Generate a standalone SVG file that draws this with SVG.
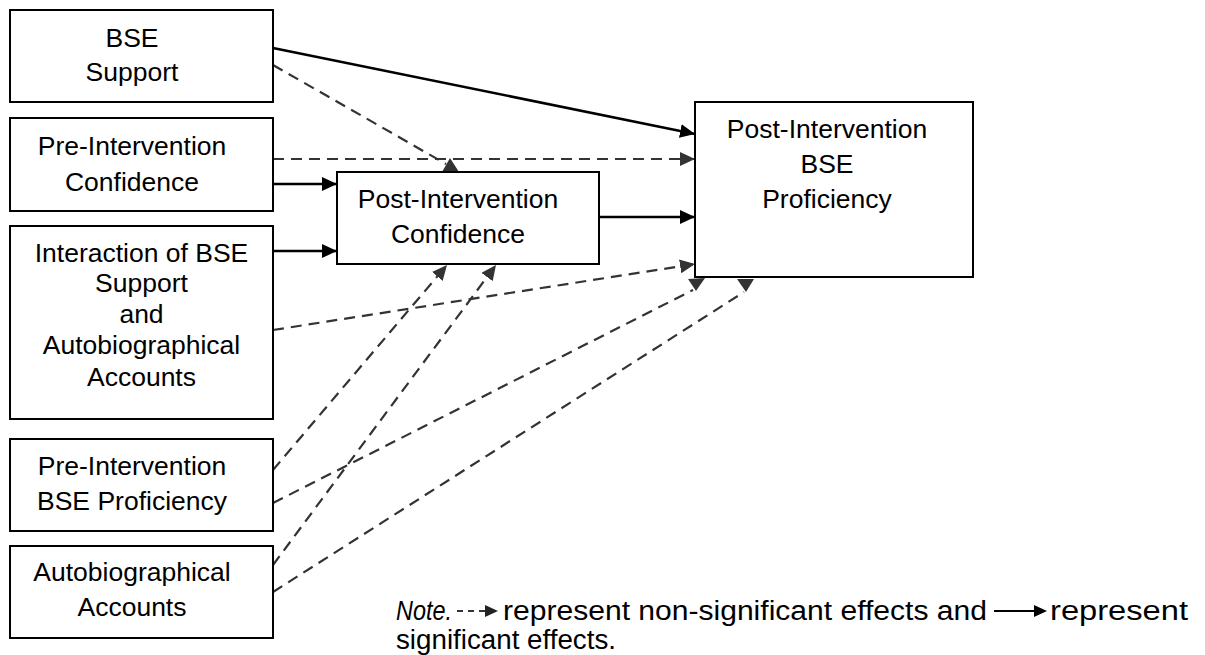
<svg xmlns="http://www.w3.org/2000/svg" width="1205" height="655" viewBox="0 0 1205 655">
<style>
.box{fill:#fff;stroke:#000;stroke-width:2}
.t{font-family:"Liberation Sans",Arial,sans-serif;font-size:26.5px;fill:#000;text-anchor:middle}
.note{font-family:"Liberation Sans",Arial,sans-serif;font-size:27px;fill:#000}
.sol{stroke:#000;stroke-width:2.5;fill:none}
.das{stroke:#333;stroke-width:2.2;fill:none;stroke-dasharray:11 7}
</style>
<defs>
<marker id="hs" markerUnits="userSpaceOnUse" markerWidth="15" markerHeight="14" refX="15" refY="7" orient="auto"><path d="M0,0 L15,7 L0,14 z" fill="#000"/></marker>
<marker id="hd" markerUnits="userSpaceOnUse" markerWidth="15" markerHeight="14" refX="15" refY="7" orient="auto"><path d="M0,0 L15,7 L0,14 z" fill="#333"/></marker>
</defs>
<rect width="1205" height="655" fill="#fff"/>
<g id="connectors">
<line class="sol" x1="273" y1="48" x2="695" y2="134" marker-end="url(#hs)"/>
<line class="sol" x1="273" y1="184" x2="337" y2="184" marker-end="url(#hs)"/>
<line class="sol" x1="273" y1="251" x2="337" y2="251" marker-end="url(#hs)"/>
<line class="sol" x1="599" y1="217" x2="695" y2="217" marker-end="url(#hs)"/>
<line class="das" x1="273" y1="65" x2="446" y2="164"/>
<polygon points="442,172 450,158 459,172" fill="#333"/>
<line class="das" x1="273" y1="159" x2="695" y2="159" marker-end="url(#hd)"/>
<line class="das" x1="273" y1="330" x2="695" y2="264" marker-end="url(#hd)"/>
<line class="das" x1="273" y1="470" x2="447" y2="265" marker-end="url(#hd)"/>
<line class="das" x1="273" y1="565" x2="496" y2="265" marker-end="url(#hd)"/>
<line class="das" x1="273" y1="503" x2="693" y2="290"/>
<polygon points="688,279 705,278 696,291" fill="#333"/>
<line class="das" x1="273" y1="592" x2="744" y2="292"/>
<polygon points="737,279 754,279 746,292" fill="#333"/>
</g>
<g id="n-bse-support">
<rect class="box" x="10" y="10" width="263" height="92"/>
<text class="t" x="132" y="47">BSE</text>
<text class="t" x="132" y="81">Support</text>
</g>
<g id="n-pre-conf">
<rect class="box" x="10" y="118" width="263" height="93"/>
<text class="t" x="132" y="155">Pre-Intervention</text>
<text class="t" x="132" y="191">Confidence</text>
</g>
<g id="n-interaction">
<rect class="box" x="10" y="226" width="263" height="193"/>
<text class="t" x="141.5" y="262">Interaction of BSE</text>
<text class="t" x="141.5" y="292">Support</text>
<text class="t" x="141.5" y="323">and</text>
<text class="t" x="141.5" y="354">Autobiographical</text>
<text class="t" x="141.5" y="386">Accounts</text>
</g>
<g id="n-pre-prof">
<rect class="box" x="10" y="439" width="263" height="92"/>
<text class="t" x="132" y="475">Pre-Intervention</text>
<text class="t" x="132" y="510">BSE Proficiency</text>
</g>
<g id="n-autobio">
<rect class="box" x="10" y="546" width="263" height="92"/>
<text class="t" x="132" y="581">Autobiographical</text>
<text class="t" x="132" y="616">Accounts</text>
</g>
<g id="n-post-conf">
<rect class="box" x="337" y="172" width="262" height="92"/>
<text class="t" x="458" y="208">Post-Intervention</text>
<text class="t" x="458" y="243">Confidence</text>
</g>
<g id="n-post-prof">
<rect class="box" x="695" y="102" width="278" height="175"/>
<text class="t" x="827" y="138">Post-Intervention</text>
<text class="t" x="827" y="173">BSE</text>
<text class="t" x="827" y="208">Proficiency</text>
</g>
<g id="note">
<text class="note" x="396" y="620" font-style="italic" textLength="56" lengthAdjust="spacingAndGlyphs">Note.</text>
<line x1="457" y1="611" x2="485" y2="611" stroke="#333" stroke-width="2" stroke-dasharray="6 5"/>
<polygon points="485,605 498,611 485,617" fill="#222"/>
<text class="note" x="503" y="620" textLength="484" lengthAdjust="spacingAndGlyphs">represent non-significant effects and</text>
<line x1="994" y1="611" x2="1036" y2="611" stroke="#000" stroke-width="2"/>
<polygon points="1034,605 1047,611 1034,617" fill="#000"/>
<text class="note" x="1050" y="620" textLength="138" lengthAdjust="spacingAndGlyphs">represent</text>
<text class="note" x="396" y="649" textLength="220" lengthAdjust="spacingAndGlyphs">significant effects.</text>
</g>
</svg>
